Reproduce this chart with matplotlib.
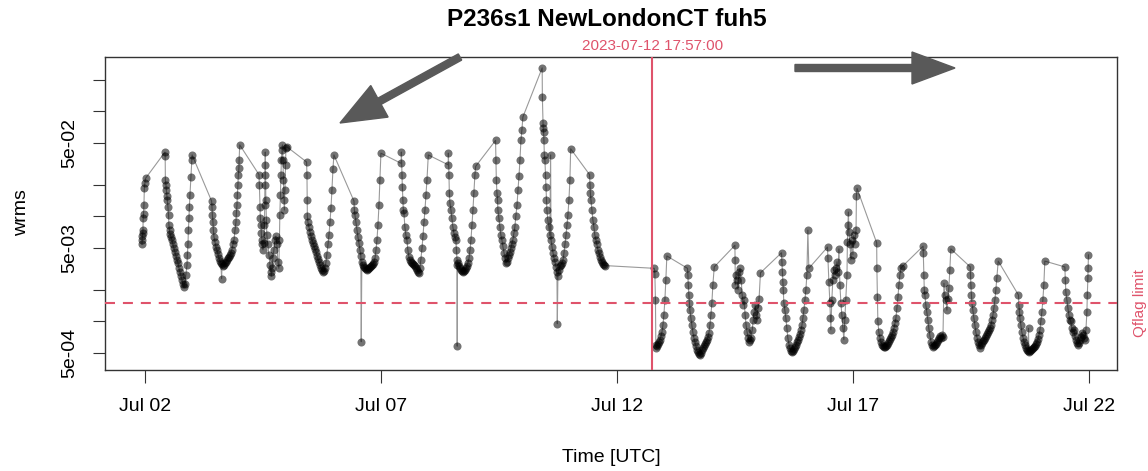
import numpy as np
import pandas as pd
import matplotlib
matplotlib.use("Agg")
import matplotlib.pyplot as plt
import matplotlib.dates as mdates
from matplotlib.patches import FancyArrow
from matplotlib.transforms import IdentityTransform, blended_transform_factory
from matplotlib.ticker import NullLocator

plt.rcParams['font.family'] = ['Liberation Sans', 'DejaVu Sans']

# ---------------- data ----------------
start_time = "2023-07-02 00:00"
event_time = "2023-07-12 17:57:00"
qflag_limit = 1.5e-3
title = "P236s1 NewLondonCT fuh5"
ytick_values = [5e-4, 1e-3, 2e-3, 5e-3, 1e-2, 2e-2, 5e-2, 1e-1, 2e-1]
ytick_labels = ["5e-04", "", "", "5e-03", "", "", "5e-02", "", ""]
xtick_dates = ["2023-07-02", "2023-07-07", "2023-07-12", "2023-07-17", "2023-07-22"]

# hours since Jul 02 00:00 UTC, before the event
hours_before = [
    -1.5, -1.4, -1.3, -1.1, -1.0, -0.9, -0.7, -0.5, -0.3, 0.0, 0.3, 10.2, 10.3,
    10.4, 10.7, 10.9, 11.2, 11.4, 11.7, 12.0, 12.2, 12.5, 12.7, 13.2, 13.7, 14.2, 14.7, 15.3, 15.8,
    16.3, 16.8, 17.3, 17.8, 18.3, 18.8, 19.3, 19.8, 20.3, 20.8, 21.4, 21.6, 21.9, 22.1, 22.4, 22.6,
    22.9, 23.4, 23.9, 24.0,
    33.9, 34.1, 34.3, 34.6, 34.8, 35.1, 35.6, 36.1, 36.6, 37.1, 37.6, 38.1, 38.6, 39.0, 39.2, 39.7,
    40.2, 40.7, 41.2, 41.7, 42.2, 42.7, 43.2, 43.7, 44.2, 44.7, 45.3, 45.8, 46.3, 46.5, 46.8, 47.0,
    47.3, 47.5, 47.8, 47.9, 48.2,
    58.0, 58.2, 58.5, 58.7, 59.0, 59.2, 59.5, 59.7, 60.0, 60.5, 60.8, 60.9, 61.0, 61.1, 61.2, 61.3,
    61.5, 61.8, 62.0, 62.5, 63.1, 63.6, 64.1, 64.3, 64.6, 65.1, 65.6, 66.1, 66.6, 67.1, 67.6, 68.1,
    68.4, 68.6, 68.9, 69.2, 69.4, 69.7, 69.9, 70.2, 70.4, 70.7, 70.9, 71.2, 71.5, 71.7, 72.2,
    82.2, 82.4, 82.5, 82.6, 82.9, 83.4, 83.9, 84.4, 84.9, 85.4, 85.9, 86.4, 87.0, 87.5, 88.0, 88.5,
    89.0, 89.5, 90.0, 90.5, 91.0, 91.5, 92.0, 92.5, 93.1, 93.6, 94.1, 94.6, 95.1, 95.6, 96.1,
    106.3, 106.5, 106.8, 107.3, 107.8, 108.3, 108.8, 109.3, 109.8, 110.0, 110.3, 110.8, 111.4, 111.9,
    112.4, 112.9, 113.4, 113.9, 114.4, 114.9, 115.4, 115.9, 116.4, 117.0, 117.5, 118.0, 118.5, 119.0,
    119.5, 120.0,
    130.3, 130.4, 130.7, 130.9, 131.2, 131.4, 131.7, 132.2, 132.7, 133.2, 133.7, 134.2, 134.8, 135.3,
    135.8, 136.3, 136.8, 137.3, 137.8, 138.3, 138.8, 139.3, 139.8, 140.3, 140.9, 141.4, 141.9, 142.4,
    142.9, 143.4, 144.1,
    154.2, 154.3, 154.6, 154.8, 155.1, 155.6, 156.1, 156.6, 157.1, 157.6, 158.1, 158.4, 158.7, 158.8,
    158.9, 159.2, 159.7, 160.2, 160.7, 161.2, 161.7, 162.2, 162.7, 163.2, 163.7, 164.2, 164.8, 165.3,
    165.8, 166.3, 166.8, 167.3, 167.8, 168.2,
    178.3, 178.5, 178.7, 179.0, 179.3, 179.5, 180.0, 180.5, 181.0, 181.5, 182.0, 182.6, 183.1, 183.6,
    184.1, 184.6, 185.1, 185.6, 186.1, 186.6, 187.1, 187.6, 188.1, 188.6, 189.2, 189.7, 190.2, 190.7,
    191.2, 191.7, 192.2,
    202.0, 202.1, 202.4, 202.5, 202.7, 202.9, 203.1, 203.4, 203.7, 203.9, 204.2, 204.4, 204.9, 205.4,
    205.9, 206.3, 206.5, 207.0, 207.5, 208.0, 208.5, 209.0, 209.5, 209.7, 210.0, 210.5, 211.0, 211.5,
    212.1, 212.6, 213.1, 213.6, 214.1, 214.6, 215.1, 215.6, 216.1, 216.5,
    226.1, 226.3, 226.5, 226.8, 227.3, 227.8, 228.3, 228.8, 229.3, 229.8, 230.3, 230.9, 231.4, 231.9,
    232.4, 232.9, 233.4, 233.9,
]
wrms_before = [
    5.4e-3, 6.0e-3, 6.5e-3, 6.9e-3, 7.4e-3, 9.6e-3, 1.05e-2, 1.27e-2, 1.85e-2, 2.1e-2, 2.3e-2, 4.1e-2, 3.75e-2,
    2.2e-2, 2.0e-2, 1.78e-2, 1.55e-2, 1.43e-2, 1.23e-2, 1.03e-2, 8.3e-3, 7.4e-3, 6.8e-3, 6.4e-3, 6.0e-3, 5.4e-3, 5.0e-3, 4.6e-3, 4.2e-3,
    3.85e-3, 3.6e-3, 3.2e-3, 2.95e-3, 2.7e-3, 2.5e-3, 2.25e-3, 2.12e-3, 2.25e-3, 2.77e-3, 3.45e-3, 4.3e-3, 5.4e-3, 7.4e-3, 9.6e-3, 1.23e-2,
    1.6e-2, 2.35e-2, 3.45e-2, 3.85e-2,
    1.4e-2, 1.23e-2, 1.03e-2, 8.8e-3, 7.4e-3, 6.4e-3, 5.7e-3, 5.1e-3, 4.8e-3, 4.4e-3, 4.0e-3, 3.75e-3, 3.6e-3, 2.55e-3, 3.5e-3, 3.4e-3,
    3.45e-3, 3.6e-3, 3.7e-3, 3.85e-3, 4.0e-3, 4.1e-3, 4.3e-3, 4.5e-3, 4.8e-3, 5.4e-3, 6.0e-3, 7.4e-3, 8.8e-3, 1.08e-2, 1.27e-2, 1.6e-2,
    2.0e-2, 2.5e-2, 2.9e-2, 3.45e-2, 4.8e-2,
    2.5e-2, 2.0e-2, 1.23e-2, 9.6e-3, 8.3e-3, 6.9e-3, 6.0e-3, 5.4e-3, 4.8e-3, 5.6e-3, 8.3e-3, 1.27e-2, 2.0e-2, 3.1e-2, 4.1e-2, 2.5e-2,
    1.43e-2, 9.2e-3, 6.6e-3, 5.4e-3, 4.3e-3, 3.45e-3, 2.95e-3, 2.7e-3, 3.2e-3, 4.0e-3, 4.8e-3, 6.0e-3, 6.5e-3, 5.4e-3, 3.7e-3, 3.2e-3,
    6.0e-3, 1.03e-2, 1.6e-2, 2.5e-2, 3.45e-2, 4.3e-2, 4.8e-2, 3.45e-2, 2.2e-2, 1.43e-2, 1.15e-2, 1.78e-2, 3.1e-2, 4.5e-2, 4.6e-2,
    3.3e-2, 2.5e-2, 1.43e-2, 1.0e-2, 8.8e-3, 7.9e-3, 7.1e-3, 6.5e-3, 6.0e-3, 5.6e-3, 5.2e-3, 4.9e-3, 4.6e-3, 4.2e-3, 3.9e-3, 3.7e-3,
    3.45e-3, 3.2e-3, 3.1e-3, 2.95e-3, 3.0e-3, 3.2e-3, 3.6e-3, 4.3e-3, 5.4e-3, 6.7e-3, 8.8e-3, 1.2e-2, 1.78e-2, 2.8e-2, 3.85e-2,
    1.4e-2, 1.15e-2, 1.03e-2, 8.8e-3, 7.4e-3, 6.4e-3, 5.6e-3, 4.8e-3, 4.2e-3, 6.4e-4, 3.7e-3, 3.45e-3, 3.3e-3, 3.2e-3,
    3.15e-3, 3.1e-3, 3.15e-3, 3.2e-3, 3.3e-3, 3.35e-3, 3.45e-3, 3.5e-3, 3.7e-3, 4.0e-3, 4.8e-3, 6.0e-3, 8.3e-3, 1.27e-2,
    2.2e-2, 4.0e-2,
    3.2e-2, 4.1e-2, 2.5e-2, 1.9e-2, 1.43e-2, 1.15e-2, 1.08e-2, 7.9e-3, 6.6e-3, 6.0e-3, 4.8e-3, 4.1e-3, 3.85e-3, 3.7e-3,
    3.6e-3, 3.5e-3, 3.45e-3, 3.4e-3, 3.2e-3, 3.1e-3, 2.95e-3, 2.9e-3, 3.2e-3, 3.85e-3, 5.0e-3, 6.5e-3, 8.8e-3, 1.15e-2,
    1.6e-2, 2.2e-2, 3.85e-2,
    3.1e-2, 4.0e-2, 2.5e-2, 1.67e-2, 1.34e-2, 1.15e-2, 9.6e-3, 7.9e-3, 6.9e-3, 6.4e-3, 6.0e-3, 4.8e-3, 3.85e-3, 5.8e-4,
    3.45e-3, 3.6e-3, 3.4e-3, 3.2e-3, 3.1e-3, 3.0e-3, 2.95e-3, 3.0e-3, 3.1e-3, 3.2e-3, 3.4e-3, 3.6e-3, 4.0e-3, 4.8e-3,
    6.0e-3, 8.3e-3, 1.15e-2, 1.67e-2, 2.5e-2, 3.0e-2,
    5.3e-2, 3.45e-2, 2.2e-2, 1.67e-2, 1.43e-2, 1.15e-2, 9.6e-3, 7.9e-3, 6.6e-3, 6.0e-3, 5.2e-3, 4.5e-3, 4.0e-3, 3.6e-3,
    3.7e-3, 4.0e-3, 4.3e-3, 4.6e-3, 5.0e-3, 5.5e-3, 6.0e-3, 6.9e-3, 7.9e-3, 1.0e-2, 1.27e-2, 1.78e-2, 2.4e-2, 3.45e-2,
    5.3e-2, 6.7e-2, 8.85e-2,
    0.26, 0.137, 7.8e-2, 7.0e-2, 6.4e-2, 5.3e-2, 3.85e-2, 3.45e-2, 2.5e-2, 1.9e-2, 1.43e-2, 1.15e-2, 9.2e-3, 7.9e-3,
    6.6e-3, 3.85e-2, 6.0e-3, 5.1e-3, 4.5e-3, 4.0e-3, 3.7e-3, 3.3e-3, 2.95e-3, 9.5e-4, 2.7e-3, 3.1e-3, 3.4e-3, 3.45e-3,
    3.6e-3, 3.85e-3, 4.5e-3, 5.4e-3, 6.6e-3, 8.3e-3, 1.03e-2, 1.43e-2, 2.2e-2, 4.4e-2,
    2.5e-2, 2.0e-2, 1.67e-2, 1.43e-2, 1.15e-2, 9.2e-3, 7.9e-3, 6.6e-3, 6.0e-3, 5.4e-3, 4.8e-3, 4.5e-3, 4.1e-3, 3.85e-3,
    3.7e-3, 3.5e-3, 3.45e-3, 3.4e-3,
]

# hours since Jul 02 00:00 UTC, after the event
hours_after = [
    259.0, 259.3, 259.6, 259.8, 260.1, 260.3, 260.8, 261.3, 261.8, 262.4, 262.9, 263.4, 263.9, 264.4, 264.9, 265.4,
    275.9, 276.1, 276.3, 276.6, 276.8, 277.1, 277.6, 278.1, 278.6, 279.1, 279.6, 280.2, 280.7, 281.2, 281.7, 282.2,
    282.7, 283.2, 283.7, 284.2, 284.7, 285.3, 285.8, 286.3, 286.8, 287.3, 287.8, 288.3, 288.8, 289.5,
    300.0, 300.1, 300.2, 300.6, 301.1, 301.6, 302.1, 302.6, 303.2, 303.7, 304.2, 304.7, 305.2, 305.7, 306.2, 306.7,
    307.2, 307.7, 308.2, 308.8, 309.3, 309.8, 310.3, 310.8, 311.3, 311.8, 312.3, 313.0,
    323.7, 323.9, 324.1, 324.4, 324.6, 324.9, 325.4, 325.9, 326.4, 326.9, 327.5, 328.0, 328.5, 329.0, 329.5, 330.0,
    330.5, 331.0, 331.5, 332.0, 332.5, 333.1, 333.6, 334.1, 334.6, 335.1, 335.6, 336.1, 336.6, 337.1, 337.6,
    347.1, 347.3, 347.8, 348.3, 348.6, 348.8, 349.3, 349.8, 350.3, 350.8, 351.4, 351.9, 352.4, 352.9, 353.4, 353.9,
    354.4, 354.9, 355.4, 355.9, 356.4, 357.0, 357.2, 357.5, 357.7, 358.0, 358.5, 359.0, 359.5, 360.0, 360.5, 361.0,
    361.6, 361.8, 362.1,
    372.1, 372.2, 372.5, 372.7, 373.2, 373.7, 374.2, 374.8, 375.3, 375.8, 376.3, 376.8, 377.3, 377.8, 378.3, 378.8,
    379.3, 379.8, 380.3, 380.9, 381.4, 381.9, 382.4, 382.9, 383.4, 383.9, 384.4, 385.6,
    395.7, 395.8, 396.1, 396.3, 396.6, 397.1, 397.6, 398.1, 398.6, 399.1, 399.7, 400.2, 400.7, 401.2, 401.7, 402.2,
    402.7, 403.2, 403.7, 404.2, 404.7, 405.3, 405.8, 406.3, 406.8, 407.3, 407.8, 408.3, 408.8, 409.3, 409.8,
    419.7, 419.8, 420.0, 420.3, 420.5, 421.0, 421.5, 422.0, 422.5, 423.1, 423.6, 424.1, 424.6, 425.1, 425.6, 426.1,
    426.6, 427.1, 427.6, 428.1, 428.6, 429.2, 429.7, 430.2, 430.7, 431.2, 431.7, 432.2, 432.7, 433.2, 433.9,
    444.2, 444.4, 444.7, 444.9, 445.4, 445.9, 446.5, 447.0, 447.5, 448.0, 448.5, 449.0, 449.3, 449.5, 450.0, 450.5,
    451.0, 451.5, 452.1, 452.6, 453.1, 453.6, 454.1, 454.6, 455.1, 455.6, 456.1, 456.6, 457.1, 457.6,
    467.8, 468.0, 468.3, 468.8, 469.3, 469.8, 470.3, 470.8, 471.3, 471.8, 472.4, 472.9, 473.4, 473.9, 474.4, 474.9,
    475.4, 475.9, 476.4, 476.9, 477.4, 477.9, 478.5, 479.0, 479.2, 479.5, 479.6, 479.8,
]
wrms_after = [
    3.2e-3, 2.85e-3, 1.6e-3, 6.0e-4, 5.6e-4, 5.8e-4, 6.1e-4, 6.4e-4, 6.7e-4, 7.2e-4, 7.9e-4, 9.2e-4, 1.15e-3, 1.6e-3, 2.5e-3, 4.2e-3,
    3.2e-3, 2.77e-3, 2.22e-3, 1.78e-3, 1.5e-3, 1.28e-3, 1.08e-3, 9.2e-4, 7.9e-4, 7.0e-4, 6.4e-4, 5.8e-4, 5.3e-4, 5.1e-4, 4.9e-4, 4.8e-4,
    5.0e-4, 5.3e-4, 5.6e-4, 5.8e-4, 6.1e-4, 6.4e-4, 6.7e-4, 7.1e-4, 7.8e-4, 9.2e-4, 1.15e-3, 1.5e-3, 2.22e-3, 3.3e-3,
    5.3e-3, 3.85e-3, 2.22e-3, 2.77e-3, 2.5e-3, 2.0e-3, 2.95e-3, 3.2e-3, 2.5e-3, 1.78e-3, 1.43e-3, 1.6e-3, 1.15e-3, 9.2e-4, 7.9e-4, 7.0e-4,
    6.4e-4, 6.7e-4, 7.0e-4, 8.2e-4, 1.03e-3, 1.23e-3, 1.43e-3, 1.15e-3, 1.03e-3, 1.34e-3, 1.65e-3, 2.9e-3,
    4.5e-3, 3.7e-3, 2.95e-3, 2.37e-3, 2.0e-3, 1.5e-3, 1.28e-3, 1.08e-3, 8.6e-4, 7.0e-4, 6.0e-4, 5.6e-4, 5.2e-4, 5.1e-4, 5.2e-4, 5.4e-4,
    5.7e-4, 6.0e-4, 6.4e-4, 6.7e-4, 7.1e-4, 7.6e-4, 8.3e-4, 9.2e-4, 1.08e-3, 1.28e-3, 1.6e-3, 2.0e-3, 2.77e-3, 7.4e-3, 3.2e-3,
    5.1e-3, 4.0e-3, 2.37e-3, 1.5e-3, 1.08e-3, 8.3e-4, 1.6e-3, 2.5e-3, 3.1e-3, 2.77e-3, 3.2e-3, 3.7e-3, 2.95e-3, 4.9e-3, 2.22e-3, 1.5e-3,
    1.15e-3, 8.6e-4, 6.7e-4, 1.03e-3, 1.6e-3, 2.77e-3, 5.7e-3, 8.3e-3, 1.1e-2, 7.1e-3, 5.4e-3, 3.85e-3, 6.0e-3, 4.3e-3, 6.6e-3, 5.4e-3,
    7.4e-3, 1.57e-2, 1.85e-2,
    5.6e-3, 3.2e-3, 1.7e-3, 1.0e-3, 7.9e-4, 7.0e-4, 6.4e-4, 6.0e-4, 5.8e-4, 5.7e-4, 5.7e-4, 5.8e-4, 6.0e-4, 6.2e-4, 6.5e-4, 6.8e-4,
    7.1e-4, 7.4e-4, 7.9e-4, 8.6e-4, 9.6e-4, 1.08e-3, 1.34e-3, 1.7e-3, 2.22e-3, 2.77e-3, 3.2e-3, 3.4e-3,
    5.2e-3, 4.5e-3, 2.77e-3, 2.0e-3, 1.78e-3, 1.43e-3, 1.23e-3, 1.04e-3, 8.6e-4, 7.4e-4, 6.4e-4, 6.0e-4, 5.7e-4, 5.8e-4, 6.0e-4, 6.1e-4,
    6.4e-4, 6.7e-4, 7.0e-4, 7.2e-4, 7.0e-4, 7.4e-4, 7.1e-4, 2.3e-3, 1.78e-3, 1.6e-3, 1.28e-3, 1.65e-3, 2.08e-3, 3.1e-3, 4.9e-3,
    3.3e-3, 2.77e-3, 2.22e-3, 1.78e-3, 1.5e-3, 1.28e-3, 1.08e-3, 9.2e-4, 7.9e-4, 7.0e-4, 6.4e-4, 6.0e-4, 5.6e-4, 6.0e-4, 6.2e-4, 6.5e-4,
    6.7e-4, 7.0e-4, 7.2e-4, 7.6e-4, 7.9e-4, 8.3e-4, 8.6e-4, 9.2e-4, 1.04e-3, 1.15e-3, 1.34e-3, 1.6e-3, 2.0e-3, 2.6e-3, 3.75e-3,
    1.78e-3, 1.43e-3, 1.23e-3, 1.08e-3, 9.2e-4, 7.9e-4, 7.0e-4, 6.4e-4, 6.0e-4, 5.6e-4, 5.3e-4, 5.2e-4, 8.6e-4, 5.1e-4, 5.2e-4, 5.3e-4,
    5.4e-4, 5.6e-4, 5.7e-4, 5.8e-4, 6.1e-4, 6.4e-4, 6.8e-4, 7.4e-4, 8.3e-4, 1.0e-3, 1.23e-3, 1.6e-3, 2.22e-3, 3.75e-3,
    3.3e-3, 2.5e-3, 1.9e-3, 1.6e-3, 1.34e-3, 1.15e-3, 1.04e-3, 1.0e-3, 8.6e-4, 7.9e-4, 8.3e-4, 7.2e-4, 6.7e-4, 6.2e-4, 6.0e-4, 6.2e-4,
    6.7e-4, 7.1e-4, 7.8e-4, 7.4e-4, 7.0e-4, 6.7e-4, 8.3e-4, 1.23e-3, 1.78e-3, 2.6e-3, 3.2e-3, 4.3e-3,
]

# ---------------- figure ----------------
W, H = 1148, 471
R_RED = "#DF536B"
t0 = pd.Timestamp(start_time)
hours = hours_before + hours_after
wrms = wrms_before + wrms_after
times = t0 + pd.to_timedelta(np.array(hours), unit="h")

fig = plt.figure(figsize=(W / 100, H / 100), dpi=100)
ax = fig.add_axes([105 / W, 1 - 370 / H, (1117 - 105) / W, (370 - 57) / H])

ax.plot(times, wrms, "-", color="black", alpha=0.4, lw=0.8, zorder=2)
ax.plot(times, wrms, "o", color="black", alpha=0.55, ms=5.8, mew=0, zorder=3)

ax.set_yscale("log")
ax.set_ylim(3.44e-4, 0.33)
ax.set_xlim(t0 + pd.Timedelta(hours=-20.3), t0 + pd.Timedelta(hours=494.3))

ax.axhline(qflag_limit, color=R_RED, lw=1.5, dashes=(4.8, 3.8), zorder=4)
ev = pd.Timestamp(event_time)
ax.axvline(ev, color=R_RED, lw=1.5, zorder=4)

bt = blended_transform_factory(ax.transData, ax.transAxes)
ax.text(ev, 1 + 11 / 313, event_time, transform=bt, ha="center", va="center",
        color=R_RED, fontsize=11)
bt2 = blended_transform_factory(ax.transAxes, ax.transData)
ax.text(1 + 23 / 1012, qflag_limit, "Qflag limit", transform=bt2, rotation=90,
        ha="center", va="center", color=R_RED, fontsize=11)

for s in ax.spines.values():
    s.set_color("#333333")
    s.set_linewidth(1.0)

ax.set_yticks(ytick_values)
ax.set_yticklabels(ytick_labels, rotation=90, va="center")
ax.yaxis.set_minor_locator(NullLocator())
ax.set_xticks(pd.to_datetime(xtick_dates))
ax.xaxis.set_major_formatter(mdates.DateFormatter("%b %d"))
ax.xaxis.set_minor_locator(NullLocator())
ax.tick_params(axis="both", length=9, width=0.8, color="#333333", labelsize=14)
ax.tick_params(axis="y", pad=10)
ax.tick_params(axis="x", pad=11)

fig.text(22 / W, 1 - 213 / H, "wrms", rotation=90, ha="center", va="center", fontsize=14)
fig.text(611 / W, 1 - 458 / H, "Time [UTC]", ha="center", va="center", fontsize=14)
fig.text(607 / W, 1 - 20 / H, title, ha="center", va="center", fontsize=17.5, fontweight="bold")

# annotation arrows (display pixels)
a1 = FancyArrow(460, H - 57, -120, -66, width=7, head_width=36, head_length=45,
                length_includes_head=True, color="#595959", transform=IdentityTransform())
a2 = FancyArrow(795, H - 68, 160, 0, width=7, head_width=32, head_length=43,
                length_includes_head=True, color="#595959", transform=IdentityTransform())
fig.add_artist(a1)
fig.add_artist(a2)

fig.savefig("out.png", dpi=100)
